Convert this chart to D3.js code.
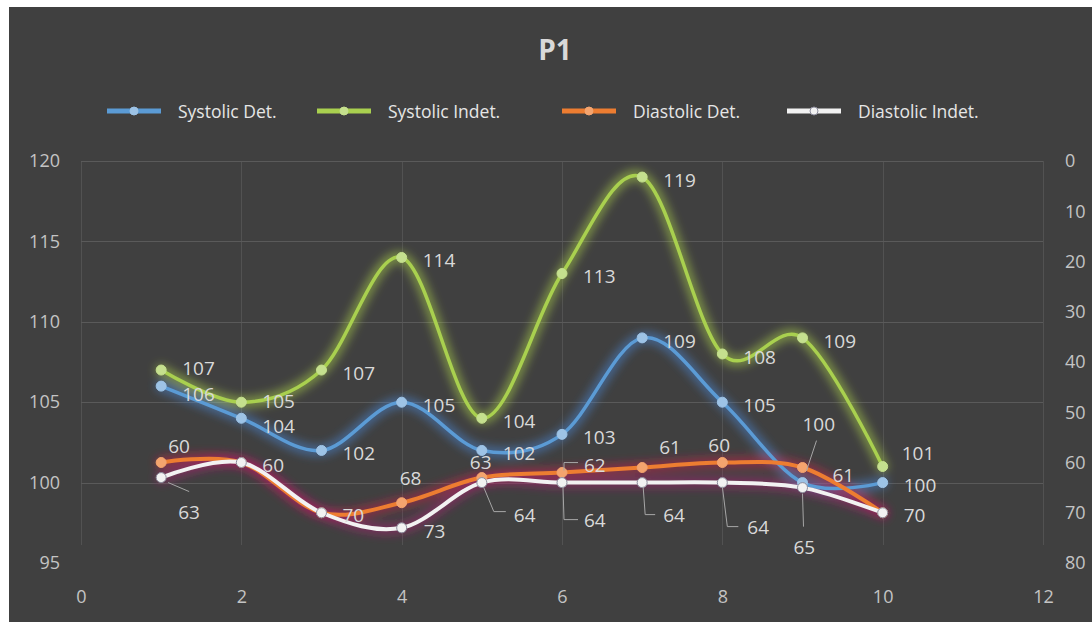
<!DOCTYPE html>
<html>
<head>
<meta charset="utf-8">
<script src="https://cdn.jsdelivr.net/npm/d3@7"></script>
<style>
  body { margin: 0; background: #ffffff; }
  text { font-family: "Open Sans", "Liberation Sans", sans-serif; }
</style>
</head>
<body>
<svg id="chart" width="1092" height="622"></svg>
<script>
// ---- data ----
const xValues = [1, 2, 3, 4, 5, 6, 7, 8, 9, 10];
const systolicDet = [106, 104, 102, 105, 102, 103, 109, 105, 100, 100];
const systolicIndet = [107, 105, 107, 114, 104, 113, 119, 108, 109, 101];
const diastolicDet = [60, 60, 70, 68, 63, 62, 61, 60, 61, 70];
const diastolicIndet = [63, 60, 70, 73, 64, 64, 64, 64, 65, 70];
const seriesNames = ["Systolic Det.", "Systolic Indet.", "Diastolic Det.", "Diastolic Indet."];
const xTicks = [0, 2, 4, 6, 8, 10, 12];
const leftTicks = [95, 100, 105, 110, 115, 120];
const rightTicks = [0, 10, 20, 30, 40, 50, 60, 70, 80];
const chartTitle = "P1";

// ---- data label placement (offsets from each point, optional leader lines) ----
const R = [21, 3];
const blueLabelPos = [[21, 8], [21, 8], R, R, R, R, R, R, { d: [0, -58], leader: [[14, -42], [4, -12]] }, R];
const greenLabelPos = [[21, -2], [21, -1], R, R, R, R, R, R, R, [19, -13]];
const orangeLabelPos = [[7, -16], R, R, [-2, -24], [-12, -15],
  { d: [22, -7], leader: [[2, -2], [2, -10], [16, -10]] },
  [17, -20], [-14, -17], [30, 8], R];
const whiteLabelPos = [{ d: [17, 35], leader: [[7, 5], [28, 14]] }, R, R, [22, 4],
  { d: [32, 33], leader: [[2, 5], [12, 29], [24, 29]] },
  { d: [22, 38], leader: [[1, 4], [2, 37], [16, 37]] },
  { d: [21, 33], leader: [[1, 4], [3, 32], [13, 32]] },
  { d: [25, 45], leader: [[0, 4], [5, 44], [16, 44]] },
  { d: [-9, 60], leader: [[0, 6], [1, 39]] }, R];

// ---- layout ----
const svg = d3.select("#chart");
const W = 1092, H = 622;
const plot = { left: 81, right: 1043, top: 161, bottom: 563 };

const x = d3.scaleLinear().domain([0, 12]).range([plot.left, plot.right]);
const yLeft = d3.scaleLinear().domain([95, 120]).range([plot.bottom, plot.top]);
const yRight = d3.scaleLinear().domain([0, 80]).range([plot.top, plot.bottom]);

// card background
svg.append("rect").attr("x", 9).attr("y", 7).attr("width", W - 9).attr("height", H - 7)
  .attr("fill", "#404040");

// glow filter
const defs = svg.append("defs");
const glow = defs.append("filter").attr("id", "glow")
  .attr("x", "-20%").attr("y", "-40%").attr("width", "140%").attr("height", "180%");
glow.append("feGaussianBlur").attr("stdDeviation", 4.5);

// gridlines
const grid = svg.append("g").attr("stroke", "#5a5a5a").attr("stroke-width", 1);
grid.selectAll("line.h").data(leftTicks.filter(d => d > 95)).join("line")
  .attr("x1", plot.left).attr("x2", plot.right)
  .attr("y1", d => Math.round(yLeft(d)) + 0.5).attr("y2", d => Math.round(yLeft(d)) + 0.5);
grid.selectAll("line.v").data(xTicks).join("line")
  .attr("y1", plot.top).attr("y2", 545)
  .attr("x1", d => Math.round(x(d)) + 0.5).attr("x2", d => Math.round(x(d)) + 0.5)
  .attr("stroke-opacity", 0.7);

// axes (labels only)
const axisColor = "#c4c4c4";
const leftAxis = svg.append("g").attr("transform", `translate(${plot.left - 21},0)`)
  .call(d3.axisLeft(yLeft).tickValues(leftTicks).tickSize(0).tickPadding(0));
const rightAxis = svg.append("g").attr("transform", `translate(${plot.right + 22},0)`)
  .call(d3.axisRight(yRight).tickValues(rightTicks).tickSize(0).tickPadding(0));
const bottomAxis = svg.append("g").attr("transform", `translate(0,${plot.bottom + 27})`)
  .call(d3.axisBottom(x).tickValues(xTicks).tickSize(0).tickPadding(0).tickFormat(d3.format("d")));
[leftAxis, rightAxis, bottomAxis].forEach(a => {
  a.select(".domain").remove();
  a.selectAll("text").attr("fill", axisColor).style("font-size", "18px")
    .style("font-family", '"Open Sans", sans-serif');
});

// series
const series = [
  { name: seriesNames[0], values: systolicDet, y: yLeft, color: "#5B9BD5", marker: "#9DC3E6", markerStroke: "#9DC3E6", glow: "#4a8be0", width: 3.5, labels: blueLabelPos },
  { name: seriesNames[1], values: systolicIndet, y: yLeft, color: "#A9D04F", marker: "#C5E08E", markerStroke: "#C5E08E", glow: "#b7e04a", width: 3.5, labels: greenLabelPos },
  { name: seriesNames[2], values: diastolicDet, y: yRight, color: "#ED7D31", marker: "#F4A46E", markerStroke: "#F4A46E", glow: "#d8204a", width: 4, labels: orangeLabelPos },
  { name: seriesNames[3], values: diastolicIndet, y: yRight, color: "#F2F2F2", marker: "#F2F2F2", markerStroke: "#8c8c9c", glow: "#b8207a", width: 4, labels: whiteLabelPos }
];

const line = (s) => d3.line()
  .x((d, i) => x(xValues[i]))
  .y(d => s.y(d))
  .curve(d3.curveCatmullRom.alpha(0));

// glows first, underneath all lines
const glowLayer = svg.append("g").attr("filter", "url(#glow)");
series.forEach(s => {
  glowLayer.append("path").datum(s.values)
    .attr("d", line(s)).attr("fill", "none")
    .attr("stroke", s.glow).attr("stroke-width", 12).attr("stroke-opacity", 0.45)
    .attr("stroke-linecap", "round").attr("stroke-linejoin", "round");
});

const seriesLayer = svg.append("g");
series.forEach(s => {
  const g = seriesLayer.append("g");
  g.append("path").datum(s.values)
    .attr("d", line(s)).attr("fill", "none")
    .attr("stroke", s.color).attr("stroke-width", s.width)
    .attr("stroke-linecap", "round").attr("stroke-linejoin", "round");
  g.selectAll("circle").data(s.values).join("circle")
    .attr("cx", (d, i) => x(xValues[i])).attr("cy", d => s.y(d))
    .attr("r", 5).attr("fill", s.marker)
    .attr("stroke", s.markerStroke).attr("stroke-width", 1);
});

// data labels (a label that would sit exactly on an identical one is drawn once)
const labelLayer = svg.append("g");
const placed = new Set();
series.forEach(s => {
  s.values.forEach((v, i) => {
    const spec = s.labels[i];
    const d = Array.isArray(spec) ? spec : spec.d;
    const px = x(xValues[i]), py = s.y(v);
    const lx = px + d[0], ly = py + d[1];
    const key = `${v}@${Math.round(lx)},${Math.round(ly)}`;
    if (placed.has(key)) return;
    placed.add(key);
    if (!Array.isArray(spec) && spec.leader) {
      labelLayer.append("path")
        .attr("d", d3.line()(spec.leader.map(p => [px + p[0], py + p[1]])))
        .attr("fill", "none").attr("stroke", "#a6a6a6").attr("stroke-width", 1);
    }
    labelLayer.append("text")
      .attr("x", lx).attr("y", ly)
      .attr("dy", "0.35em")
      .attr("fill", "#d9d9d9").style("font-size", "19px")
      .text(v);
  });
});

// title
svg.append("text").attr("x", 555).attr("y", 60).attr("text-anchor", "middle")
  .attr("fill", "#d9d9d9").style("font-size", "28px").style("font-weight", "bold")
  .text(chartTitle);

// legend
const legendX = [107, 317, 562, 787];
const legend = svg.append("g");
series.forEach((s, i) => {
  const lx = legendX[i], ly = 111;
  legend.append("line").attr("x1", lx).attr("x2", lx + 54).attr("y1", ly).attr("y2", ly)
    .attr("stroke", s.color).attr("stroke-width", 5);
  legend.append("circle").attr("cx", lx + 27).attr("cy", ly).attr("r", 4)
    .attr("fill", s.marker).attr("stroke", s.markerStroke).attr("stroke-width", 1);
  legend.append("text").attr("x", lx + 71).attr("y", ly + 1).attr("dy", "0.35em")
    .attr("fill", "#e6e6e6").style("font-size", "17.5px")
    .text(s.name);
});
</script>
</body>
</html>
